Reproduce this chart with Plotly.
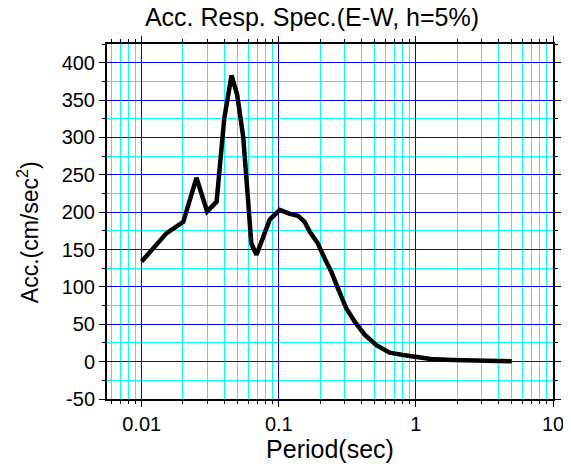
import plotly.graph_objects as go

period = [0.01, 0.0152, 0.0201, 0.0251, 0.030, 0.0352, 0.040, 0.0452, 0.0497, 0.055,
          0.0597, 0.063, 0.0688, 0.0769, 0.0859, 0.1017, 0.119, 0.138, 0.1545, 0.168,
          0.193, 0.216, 0.242, 0.27, 0.311, 0.358, 0.423, 0.515, 0.644, 0.805,
          1.0, 1.28, 1.86, 2.69, 5.0]
acc = [134, 172, 187, 246, 201, 214, 325, 383, 357, 301,
       216, 158, 143, 165, 190, 203, 198, 195, 187, 174,
       158, 138, 120, 98, 71, 53.5, 36, 22, 12, 9,
       6.7, 3.6, 2.3, 1.3, 0.5]

x_tickvals = [0.01, 0.1, 1, 10]
x_ticktext = ["0.01", "0.1", "1", "10"]
x_minor = [d * m for d in (0.001, 0.01, 0.1, 1) for m in range(2, 10)]
y_tickvals = [-50, 0, 50, 100, 150, 200, 250, 300, 350, 400]
y_ticktext = ["-50", "0", "50", "100", "150", "200", "250", "300", "350", "400"]
y_minor = [-25, 25, 75, 125, 175, 225, 275, 325, 375, 425]

fig = go.Figure()
fig.add_trace(go.Scatter(x=period, y=acc, mode="lines",
                         line=dict(color="black", width=4.5), showlegend=False))

font = "Liberation Sans, Arial, sans-serif"
# page body has an 8px margin, so the figure is 8px smaller and margins shifted
fig.update_layout(
    template="none",
    width=563, height=456,
    margin=dict(l=99, r=18, t=36, b=65),
    paper_bgcolor="white", plot_bgcolor="white",
    font=dict(family=font, color="black", size=20),
    title=dict(text="Acc. Resp. Spec.(E-W, h=5%)", x=0.54, xanchor="center",
               xref="container", yref="container",
               y=0.98, yanchor="middle", font=dict(size=25)),
    annotations=[dict(text="Acc.(cm/sec<sup>2</sup>)", textangle=-90,
                      xref="paper", yref="paper", x=-0.177, y=0.47,
                      xanchor="center", yanchor="middle", showarrow=False,
                      font=dict(size=23))],
)
fig.update_xaxes(
    type="log", range=[-2.253, 1],
    tickmode="array", tickvals=x_tickvals, ticktext=x_ticktext,
    showgrid=True, gridcolor="#0000FF", gridwidth=1,
    ticks="outside", ticklen=6, tickcolor="black", tickwidth=1,
    minor=dict(tickmode="array", tickvals=x_minor, showgrid=True,
               gridcolor="#00FFFF", gridwidth=1,
               ticks="outside", ticklen=3, tickcolor="black", tickwidth=1),
    showline=True, linecolor="black", linewidth=2, mirror="ticks",
    zeroline=False,
    title=dict(text="Period(sec)", font=dict(size=25), standoff=6),
    tickfont=dict(size=20),
)
fig.update_yaxes(
    range=[-50, 425],
    tickmode="array", tickvals=y_tickvals, ticktext=y_ticktext,
    showgrid=True, gridcolor="#0000FF", gridwidth=1,
    ticks="outside", ticklen=6, tickcolor="black", tickwidth=1,
    minor=dict(tickmode="array", tickvals=y_minor, showgrid=True,
               gridcolor="#00FFFF", gridwidth=1,
               ticks="outside", ticklen=3, tickcolor="black", tickwidth=1),
    showline=True, linecolor="black", linewidth=2, mirror="ticks",
    zeroline=False,
    tickfont=dict(size=20),
)

fig.write_html("out.html")
